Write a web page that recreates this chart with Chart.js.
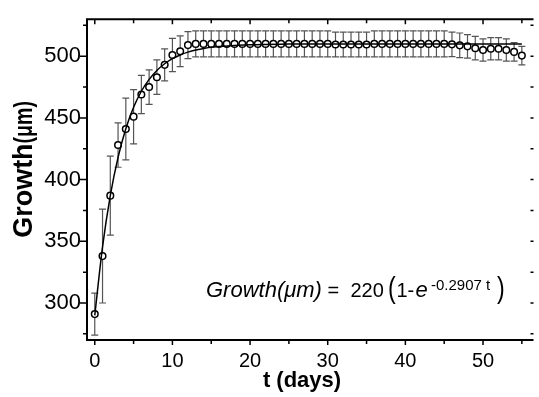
<!DOCTYPE html>
<html>
<head>
<meta charset="utf-8">
<script src="https://cdn.jsdelivr.net/npm/chart.js@4.4.0/dist/chart.umd.min.js"></script>
<style>
html,body{margin:0;padding:0;background:#fff}
</style>
</head>
<body>
<canvas id="myChart" width="539" height="397"></canvas>
<script>
// measured points (mean +- error)
var days = [0,1,2,3,4,5,6,7,8,9,10,11,12,13,14,15,16,17,18,19,20,21,22,23,24,25,26,27,
  28,29,30,31,32,33,34,35,36,37,38,39,40,41,42,43,44,45,46,47,48,49,50,51,52,53,54,55]
var growth = [291,338,387,428,441,451,469,475,483,493,501,504,509,510,510,510,510,510,510,510,
  510,510,510,510,510,510,510,510,510,510,510,509.5,509.5,509.5,509.5,509.5,510,510,510,510,
  510,510,510,510,510,510,509.6,508.8,508,506.5,505,506,506,505,503.5,500.5]
var errs = [17,38,32,18,25,22,15.5,14,14,13,13.5,12.5,11,10.5,10.5,10.5,10.5,10.5,10.5,10.5,
  10.5,10.5,10.5,10.5,10.5,10.5,10.5,10.5,10.5,10.5,10.5,10,10,10,10,10,10.5,10.5,10.5,10.5,
  10.5,10.5,10.5,10.5,10.5,10.5,10,10,9.5,9.5,9,9,9,9,7.5,7.5]

// fitted curve
var fitDays = [0,1,2,3,4,5,6,7,8,9,10,11,12,13,14,15,20,25,30,35,40,45,50,55]
var fitGrowth = [290,345.5,387,418,441.2,458.6,471.6,481.2,488.5,493.9,498,501,503.3,505,
  506.2,507.2,509.3,509.85,510,510,510,510,510,510]

var xTicks = [0,5,10,15,20,25,30,35,40,45,50,55]
var yTicks = [275,300,325,350,375,400,425,450,475,500,525]

var fnt = "'Liberation Sans', Arial, sans-serif"

const decor = {
  id: 'decor',
  beforeDatasetsDraw(chart) {
    const ctx = chart.ctx, xs = chart.scales.x, ys = chart.scales.y
    ctx.save()
    ctx.strokeStyle = '#555'
    ctx.lineWidth = 1.2
    for (let i = 0; i < days.length; i++) {
      const x = xs.getPixelForValue(days[i])
      const y1 = ys.getPixelForValue(growth[i] + errs[i])
      const y2 = ys.getPixelForValue(growth[i] - errs[i])
      ctx.beginPath()
      ctx.moveTo(x, y1); ctx.lineTo(x, y2)
      ctx.moveTo(x - 3.5, y1); ctx.lineTo(x + 3.5, y1)
      ctx.moveTo(x - 3.5, y2); ctx.lineTo(x + 3.5, y2)
      ctx.stroke()
    }
    ctx.restore()
  },
  afterDraw(chart) {
    const ctx = chart.ctx, xs = chart.scales.x, ys = chart.scales.y
    const a = chart.chartArea
    ctx.save()
    ctx.strokeStyle = '#000'
    ctx.lineWidth = 2
    ctx.beginPath()
    ctx.moveTo(a.left, a.top - 1); ctx.lineTo(a.left, a.bottom + 1)
    ctx.moveTo(a.left - 1, a.bottom); ctx.lineTo(a.right, a.bottom)
    ctx.moveTo(a.left - 1, a.top); ctx.lineTo(a.right, a.top)
    ctx.stroke()

    ctx.lineWidth = 1.5
    ctx.beginPath()
    xTicks.forEach(v => {
      const x = xs.getPixelForValue(v)
      const len = v % 10 === 0 ? 5 : 4
      ctx.moveTo(x, a.bottom); ctx.lineTo(x, a.bottom + len)
      ctx.moveTo(x, a.top); ctx.lineTo(x, a.top + len)
    })
    yTicks.forEach(v => {
      const y = ys.getPixelForValue(v)
      const len = v % 50 === 0 ? 7 : 4
      ctx.moveTo(a.left, y); ctx.lineTo(a.left - len, y)
      ctx.moveTo(a.right, y); ctx.lineTo(a.right - 3, y)
    })
    ctx.stroke()

    // axis titles
    ctx.fillStyle = '#000'
    ctx.textBaseline = 'alphabetic'
    ctx.font = "bold 22px " + fnt
    ctx.textAlign = 'center'
    ctx.fillText('t (days)', 302, 387)

    ctx.save()
    ctx.translate(32, 169.5)
    ctx.rotate(-Math.PI / 2)
    ctx.textAlign = 'left'
    ctx.font = "bold 27px " + fnt
    const w1 = ctx.measureText('Growth').width
    ctx.font = "bold 25px " + fnt
    const w2 = ctx.measureText('(μm)').width * 0.78
    let sx = -(w1 + w2) / 2
    ctx.font = "bold 27px " + fnt
    ctx.fillText('Growth', sx, 0)
    ctx.translate(sx + w1, 0)
    ctx.scale(0.78, 1)
    ctx.font = "bold 25px " + fnt
    ctx.fillText('(μm)', 0, 0)
    ctx.restore()

    // fit equation
    ctx.textAlign = 'left'
    ctx.font = "italic 22px " + fnt
    ctx.fillText('Growth(μm)', 206, 296.5)
    ctx.font = "20px " + fnt
    ctx.fillText('=', 327.5, 296.5)
    ctx.fillText('220', 350.5, 296.5)
    ctx.fillText('1-', 396.5, 296.5)
    ctx.font = "italic 22px " + fnt
    ctx.fillText('e', 415.5, 296.5)
    ctx.font = "15px " + fnt
    ctx.fillText('-0.2907 t', 431, 290)
    ctx.save()
    ctx.font = "29px " + fnt
    ctx.translate(388, 297.5)
    ctx.scale(0.8, 1)
    ctx.fillText('(', 0, 0)
    ctx.restore()
    ctx.save()
    ctx.font = "29px " + fnt
    ctx.translate(497, 297.5)
    ctx.scale(0.8, 1)
    ctx.fillText(')', 0, 0)
    ctx.restore()
    ctx.restore()
  }
}

const ctx = document.getElementById('myChart')
new Chart(ctx, {
  type: 'scatter',
  data: {
    datasets: [{
      label: 'fit',
      data: fitDays.map((d, i) => ({x: d, y: fitGrowth[i]})),
      showLine: true,
      borderColor: '#000',
      borderWidth: 1.5,
      pointRadius: 0,
      cubicInterpolationMode: 'monotone'
    }, {
      label: 'growth',
      data: days.map((d, i) => ({x: d, y: growth[i]})),
      pointRadius: 3.3,
      pointBorderWidth: 1.5,
      pointBorderColor: '#000',
      pointBackgroundColor: '#fff'
    }]
  },
  options: {
    responsive: false,
    animation: false,
    devicePixelRatio: 1,
    layout: {padding: {top: 14, left: 0, right: 0, bottom: 0}},
    plugins: {legend: {display: false}, tooltip: {enabled: false}},
    scales: {
      x: {
        type: 'linear', min: -1, max: 56.5,
        afterBuildTicks: s => { s.ticks = xTicks.map(v => ({value: v})) },
        afterFit: s => { s.height = 57 },
        grid: {display: false, drawTicks: false},
        border: {display: false},
        ticks: {autoSkip: false, maxRotation: 0, padding: 9, color: '#000',
          font: {family: fnt, size: 20},
          callback: v => v % 10 === 0 ? v : ''}
      },
      y: {
        min: 270, max: 530,
        afterBuildTicks: s => { s.ticks = yTicks.map(v => ({value: v})) },
        afterFit: s => { s.width = 87 },
        grid: {display: false, drawTicks: false},
        border: {display: false},
        ticks: {autoSkip: false, padding: 6, color: '#000',
          font: {family: fnt, size: 22},
          callback: v => v % 50 === 0 ? v : ''}
      }
    }
  },
  plugins: [decor]
})
</script>
</body>
</html>
